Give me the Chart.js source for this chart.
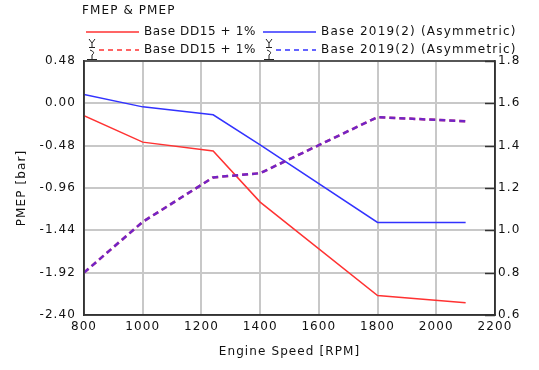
<!DOCTYPE html>
<html>
<head>
<meta charset="utf-8">
<script src="https://cdn.jsdelivr.net/npm/chart.js@4"></script>
<style>
html,body{margin:0;padding:0;background:#fff;}
#wrap{width:539px;height:370px;position:relative;}
</style>
</head>
<body>
<div id="wrap"><canvas id="c" width="539" height="370"></canvas></div>
<script>
const rpm = [800, 1000, 1240, 1400, 1800, 2100];
const pmepDD15 = [-0.14, -0.44, -0.54, -1.12, -2.18, -2.26];
const pmep2019 = [0.10, -0.04, -0.13, -0.47, -1.35, -1.35];
const fmepDD15 = [0.80, 1.04, 1.25, 1.27, 1.535, 1.515];
const fmep2019 = [0.80, 1.04, 1.25, 1.27, 1.535, 1.515];
const xTicks = [800, 1000, 1200, 1400, 1600, 1800, 2000, 2200];
const leftTicks = [-2.40, -1.92, -1.44, -0.96, -0.48, 0.00, 0.48];
const rightTicks = [0.6, 0.8, 1.0, 1.2, 1.4, 1.6, 1.8];
const seriesNames = ['Base DD15 + 1%', 'Base 2019(2) (Asymmetric)'];
const chartTitle = 'FMEP & PMEP';
const xTitle = 'Engine Speed [RPM]';
const yTitle = 'PMEP [bar]';

const RED = 'rgb(255,50,50)';
const BLUE = 'rgb(50,50,255)';
const FONT = 'DejaVu Sans';
const LS = '1.1px';
const TXT = '#111';

function pts(xs, ys){ return xs.map((x,i)=>({x:x, y:ys[i]})); }

const overlay = {
  id: 'overlay',
  beforeDraw(chart){ chart.ctx.letterSpacing = LS; },
  afterDraw(chart){
    const ctx = chart.ctx, a = chart.chartArea;
    const xs = chart.scales.x, ys = chart.scales.y, y1 = chart.scales.y1;
    ctx.save();
    ctx.letterSpacing = LS;
    // frame
    ctx.strokeStyle = '#333'; ctx.lineWidth = 1.5;
    ctx.strokeRect(a.left, a.top, a.right - a.left, a.bottom - a.top);
    // right axis inner ticks
    rightTicks.forEach(v=>{
      const py = Math.round(y1.getPixelForValue(v)) + 0.5;
      ctx.beginPath(); ctx.moveTo(a.right - 10, py); ctx.lineTo(a.right, py); ctx.stroke();
    });
    // gridlines behind everything already drawn
    ctx.save();
    ctx.globalCompositeOperation = 'destination-over';
    ctx.strokeStyle = '#c8c8c8'; ctx.lineWidth = 2;
    xTicks.forEach(v=>{
      const px = Math.round(xs.getPixelForValue(v));
      ctx.beginPath(); ctx.moveTo(px, a.top); ctx.lineTo(px, a.bottom); ctx.stroke();
    });
    leftTicks.forEach(v=>{
      const py = Math.round(ys.getPixelForValue(v));
      ctx.beginPath(); ctx.moveTo(a.left, py); ctx.lineTo(a.right, py); ctx.stroke();
    });
    ctx.restore();
    // title
    ctx.fillStyle = TXT;
    ctx.font = '12px "' + FONT + '"';
    ctx.textBaseline = 'middle'; ctx.textAlign = 'left';
    ctx.fillText(chartTitle, 82, 11);
    // legend
    function icon(x, y){
      ctx.save();
      ctx.strokeStyle = '#222'; ctx.lineWidth = 1;
      ctx.beginPath();
      ctx.moveTo(x-3, y-11); ctx.lineTo(x, y-7); ctx.lineTo(x+3, y-11);
      ctx.moveTo(x, y-7); ctx.lineTo(x, y-3);
      ctx.moveTo(x-3, y-2.5); ctx.lineTo(x+3, y-2.5);
      ctx.moveTo(x-2, y); ctx.quadraticCurveTo(x+4, y+2, x, y+5);
      ctx.moveTo(x, y+5); ctx.lineTo(x, y+9);
      ctx.moveTo(x-5, y+9.5); ctx.lineTo(x+5, y+9.5);
      ctx.stroke();
      ctx.restore();
    }
    function row(y, xLine0, xLine1, color, dashed, text, hasIcon, ls){
      ctx.save();
      ctx.strokeStyle = color; ctx.lineWidth = 1.5;
      if (dashed) ctx.setLineDash([5,4]);
      ctx.beginPath(); ctx.moveTo(xLine0, y); ctx.lineTo(xLine1, y); ctx.stroke();
      ctx.restore();
      if (hasIcon) icon(xLine0 - 7, y);
      ctx.save();
      ctx.letterSpacing = ls;
      ctx.fillStyle = TXT;
      ctx.fillText(text, xLine1 + 5, y);
      ctx.restore();
    }
    row(32, 86, 139, RED, false, seriesNames[0], false, '0.6px');
    row(32, 263, 316, BLUE, false, seriesNames[1], false, '1.2px');
    row(50, 99, 139, RED, true, seriesNames[0], true, '0.6px');
    row(50, 276, 316, BLUE, true, seriesNames[1], true, '1.2px');
    ctx.restore();
  }
};

new Chart(document.getElementById('c'), {
  type: 'line',
  data: {
    datasets: [
      {label: seriesNames[0], data: pts(rpm, pmepDD15), yAxisID: 'y', order: 3, borderColor: RED, borderWidth: 1.5, pointRadius: 0, fill: false, tension: 0},
      {label: seriesNames[1], data: pts(rpm, pmep2019), yAxisID: 'y', order: 2, borderColor: BLUE, borderWidth: 1.5, pointRadius: 0, fill: false, tension: 0},
      {label: seriesNames[0], data: pts(rpm, fmepDD15), yAxisID: 'y1', order: 1, borderColor: RED, borderWidth: 2.5, borderDash: [6,4], pointRadius: 0, fill: false, tension: 0},
      {label: seriesNames[1], data: pts(rpm, fmep2019), yAxisID: 'y1', order: 0, borderColor: 'rgba(60,30,255,0.72)', borderWidth: 2.5, borderDash: [6,4], pointRadius: 0, fill: false, tension: 0}
    ]
  },
  options: {
    responsive: false,
    animation: false,
    devicePixelRatio: 1,
    layout: {padding: {top: 61, left: 0, right: 0, bottom: 0}},
    plugins: {legend: {display: false}, title: {display: false}, tooltip: {enabled: false}},
    scales: {
      x: {
        type: 'linear', position: 'bottom', min: 800, max: 2200,
        afterBuildTicks: s => { s.ticks = xTicks.map(v=>({value:v})); },
        afterFit: s => { s.height = 55; },
        grid: {display: false, drawTicks: false},
        border: {color: '#333', width: 1.5},
        ticks: {padding: 5, color: TXT, font: {family: FONT, size: 12}, maxRotation: 0, autoSkip: false, callback: v => String(v)},
        title: {display: true, text: xTitle, color: TXT, font: {family: FONT, size: 12}, padding: {top: 0, bottom: 11}}
      },
      y: {
        type: 'linear', position: 'left', min: -2.40, max: 0.48,
        afterBuildTicks: s => { s.ticks = leftTicks.map(v=>({value:v})); },
        afterFit: s => { s.width = 84; },
        grid: {display: false, drawTicks: false},
        border: {color: '#333', width: 1.5},
        ticks: {padding: 8, color: TXT, font: {family: FONT, size: 12}, autoSkip: false, callback: v => Number(v).toFixed(2)},
        title: {display: true, text: yTitle, color: TXT, font: {family: FONT, size: 12}, padding: {top: 15, bottom: 0}}
      },
      y1: {
        type: 'linear', position: 'right', min: 0.6, max: 1.8,
        afterBuildTicks: s => { s.ticks = rightTicks.map(v=>({value:v})); },
        afterFit: s => { s.width = 44; },
        grid: {display: false, drawTicks: false},
        border: {color: '#333', width: 1.5},
        ticks: {padding: 3, color: TXT, font: {family: FONT, size: 12}, autoSkip: false, callback: v => Number(v).toFixed(1)}
      }
    }
  },
  plugins: [overlay]
});
</script>
</body>
</html>
